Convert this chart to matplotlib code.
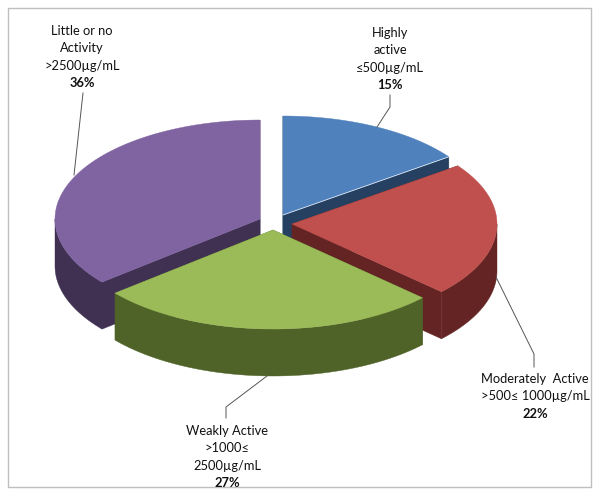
import matplotlib
matplotlib.use("Agg")
import matplotlib.pyplot as plt
from matplotlib.patches import Polygon, Rectangle
import numpy as np

plt.rcParams['font.family'] = ['Lato', 'DejaVu Sans']

# clockwise from 12 o'clock
shares = [15, 22, 27, 36]
labels = [
    ['Highly', 'active', '≤500µg/mL'],
    ['Moderately  Active', '>500≤ 1000µg/mL'],
    ['Weakly Active', '>1000≤', '2500µg/mL'],
    ['Little or no', 'Activity', '>2500µg/mL'],
]
top_colors = ['#4F81BD', '#C0504D', '#9BBB59', '#8064A2']
side_colors = ['#254061', '#632423', '#4F6228', '#403152']

# apex of each exploded slice, pixels
apex = [(283, 215), (292, 224), (273, 230), (260, 219)]
rx = 205
ry = 99
depth = 47

label_x = [390, 535, 227, 82]
label_y = [33, 379, 431, 31]
line_step = 17.3

leaders = [
    [(390, 95), (390, 107), (377, 127)],
    [(534, 367), (534, 354), (496, 277)],
    [(226, 418), (226, 407), (267, 376)],
    [(83, 93), (74, 175)],
]

fig = plt.figure(figsize=(6, 4.96), dpi=100)
ax = fig.add_axes([0, 0, 1, 1])
ax.set_xlim(0, 600)
ax.set_ylim(496, 0)
ax.axis('off')

ax.add_patch(Rectangle((8, 8), 583, 479, fc='white', ec='#BFBFBF', lw=1.0))


def arc(center, a0, a1):
    t = np.radians(np.linspace(a0, a1, 120))
    return np.column_stack([center[0] + rx * np.sin(t), center[1] - ry * np.cos(t)])


edges = np.cumsum([0] + shares) / sum(shares) * 360

# painter's order: back slices first
for i in [3, 0, 1, 2]:
    a0, a1 = edges[i], edges[i + 1]
    c = np.array(apex[i], dtype=float)
    down = np.array([0, depth])
    pts = arc(c, a0, a1)

    # the two cut faces
    for p in (pts[0], pts[-1]):
        face = [c, p, p + down, c + down]
        ax.add_patch(Polygon(face, fc=side_colors[i], ec=side_colors[i], lw=0.3))

    # rim, only the front half shows
    lo, hi = max(a0, 90), min(a1, 270)
    if lo < hi:
        rim = arc(c, lo, hi)
        ax.add_patch(Polygon(np.vstack([rim, rim[::-1] + down]),
                             fc=side_colors[i], ec=side_colors[i], lw=0.3))

    ax.add_patch(Polygon(np.vstack([c, pts]), fc=top_colors[i], ec=top_colors[i], lw=0.3))

    # light edge on the blue slice's cut
    if i == 0:
        ax.plot([c[0], pts[-1][0]], [c[1], pts[-1][1]], color='#DCE6F2', lw=0.6)

for pts in leaders:
    xs, ys = zip(*pts)
    ax.plot(xs, ys, color='#555555', lw=0.7, solid_joinstyle='miter')

for i in range(4):
    lines = labels[i]
    for j, s in enumerate(lines):
        ax.text(label_x[i], label_y[i] + j * line_step, s, ha='center', va='center',
                fontsize=9.3, color='#111111')
    ax.text(label_x[i], label_y[i] + len(lines) * line_step, f'{shares[i]}%',
            ha='center', va='center', fontsize=9.3, fontweight='bold', color='#111111')

fig.savefig('out.png', dpi=100)
